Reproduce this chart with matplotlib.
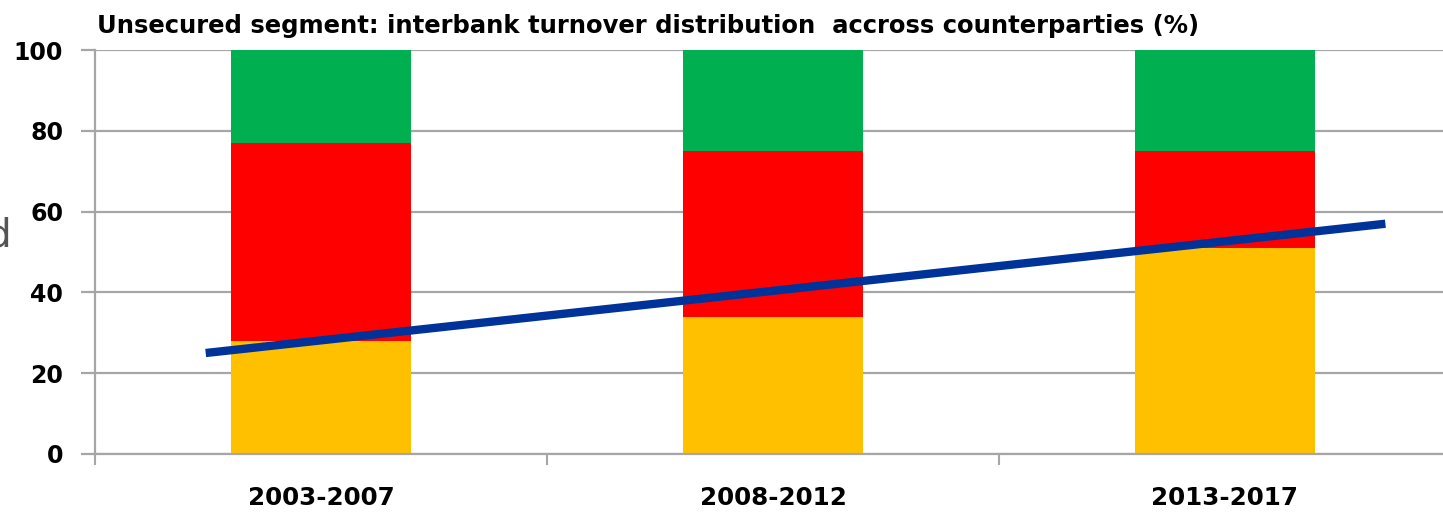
import matplotlib
matplotlib.use("Agg")
import matplotlib.pyplot as plt
import numpy as np

periods = ["2003-2007", "2008-2012", "2013-2017"]
yellow = [28, 34, 51]
red = [49, 41, 24]
green = [23, 25, 25]
trend_x = [-0.255, 2.355]
trend_y = [25, 57]

plt.rcParams['font.family'] = ['DejaVu Sans']

fig = plt.figure(figsize=(14.43, 5.12), dpi=100)
ax = fig.add_axes([0.0658, 0.1133, 0.9397, 0.789])

x = np.arange(len(periods))
w = 0.4
ax.bar(x, yellow, w, color='#FFC000', zorder=2)
ax.bar(x, red, w, bottom=yellow, color='#FF0000', zorder=2)
ax.bar(x, green, w, bottom=np.add(yellow, red), color='#00B050', zorder=2)
ax.plot(trend_x, trend_y, color='#003399', lw=6, solid_capstyle='butt', zorder=3)

ax.set_xlim(-0.5, 2.5)
ax.set_ylim(0, 100)
ax.set_yticks(range(0, 101, 20))
ax.grid(axis='y', color='#A6A6A6', lw=1.6, zorder=0)
ax.set_xticks([-0.5, 0.5, 1.5])
ax.set_xticklabels([])
for i, p in enumerate(periods):
    ax.text(i, -0.11, p, transform=ax.get_xaxis_transform(), ha='center', va='center',
            fontsize=17.7, fontweight='bold')
for s in ['top', 'right']:
    ax.spines[s].set_visible(False)
ax.spines['left'].set_color('#A6A6A6')
ax.spines['left'].set_linewidth(1.6)
ax.spines['bottom'].set_color('#A6A6A6')
ax.spines['bottom'].set_linewidth(1.6)
ax.tick_params(axis='y', length=10, width=1.6, color='#A6A6A6', labelsize=17, pad=13)
ax.tick_params(axis='x', length=8, width=1.5, color='#A6A6A6')
for lab in ax.get_yticklabels():
    lab.set_fontweight('bold')

fig.text(0.067, 0.95, "Unsecured segment: interbank turnover distribution  accross counterparties (%)",
         fontsize=17.5, fontweight='bold', ha='left', va='center')
fig.text(0.008, 0.54, "d", fontsize=28, color='#555555', ha='right', va='center')

fig.savefig("out.png", dpi=100)
